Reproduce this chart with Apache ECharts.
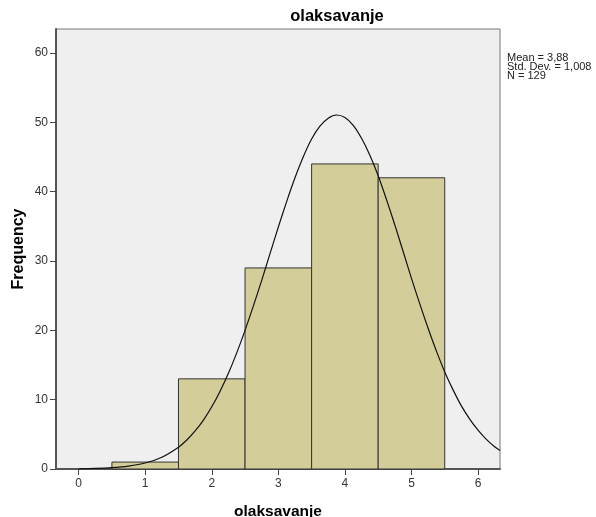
<!DOCTYPE html>
<html><head><meta charset="utf-8">
<script src="https://cdn.jsdelivr.net/npm/echarts@6/dist/echarts.min.js"></script>
<style>html,body{margin:0;padding:0;background:#fff}#c{width:596px;height:517px}</style>
</head><body><div id="c"></div>
<script>
const binCenters = [1, 2, 3, 4, 5];
const frequencies = [1, 13, 29, 44, 42];
const xTicks = [0, 1, 2, 3, 4, 5, 6];
const yTicks = [0, 10, 20, 30, 40, 50, 60];
const curveX = [0, 0.25, 0.5, 0.75, 1, 1.25, 1.5, 1.625, 1.75, 1.875, 2, 2.125, 2.25, 2.375, 2.5, 2.625, 2.75, 2.875, 3, 3.125, 3.25, 3.375, 3.5, 3.625, 3.75, 3.875, 4, 4.125, 4.25, 4.375, 4.5, 4.625, 4.75, 4.875, 5, 5.125, 5.25, 5.375, 5.5, 5.625, 5.75, 5.875, 6, 6.125, 6.25, 6.33];
const curveY = [0.03, 0.08, 0.19, 0.42, 0.86, 1.7, 3.15, 4.18, 5.5, 7.06, 8.97, 11.22, 13.8, 16.75, 20.0, 23.52, 27.2, 31.06, 34.9, 38.57, 42.0, 45.04, 47.6, 49.45, 50.6, 51.06, 50.7, 49.57, 47.7, 45.26, 42.3, 38.86, 35.2, 31.37, 27.5, 23.81, 20.3, 17.0, 14.0, 11.41, 9.1, 7.2, 5.6, 4.27, 3.2, 2.66];
const statsLines = ['Mean = 3,88', 'Std. Dev. = 1,008', 'N = 129'];
const titleText = 'olaksavanje';
const xName = 'olaksavanje';
const yName = 'Frequency';

const chart = echarts.init(document.getElementById('c'), null, {renderer: 'canvas'});
const font = 'Arial, "Liberation Sans", sans-serif';
chart.setOption({
  animation: false,
  title: {text: titleText, left: 332, top: 3, textAlign: 'center',
    textStyle: {fontFamily: font, fontSize: 16.5, fontWeight: 'bold', color: '#000'}},
  graphic: [{type: 'text', left: 507, top: 52,
    style: {text: statsLines.join('\n'), font: '11px ' + font, fill: '#222', lineHeight: 9}}],
  grid: {left: 56, top: 29, right: 96, bottom: 48, show: true, containLabel: false, outerBoundsMode: 'none',
    backgroundColor: '#efefef', borderColor: '#777', borderWidth: 1},
  xAxis: {type: 'value', min: -0.34, max: 6.33,
    name: xName, nameLocation: 'middle', nameGap: 35,
    nameTextStyle: {fontFamily: font, fontSize: 15.5, fontWeight: 'bold', color: '#000'},
    axisLine: {show: true, onZero: false, lineStyle: {color: '#555', width: 2}},
    axisTick: {show: true, length: 6, customValues: xTicks, lineStyle: {color: '#444', width: 1}},
    axisLabel: {customValues: xTicks, fontFamily: font, fontSize: 12, color: '#333', margin: 9},
    splitLine: {show: false}},
  yAxis: {type: 'value', min: 0, max: 63.46,
    name: yName, nameLocation: 'middle', nameGap: 29, nameMoveOverlap: false,
    nameTextStyle: {fontFamily: font, fontSize: 16, fontWeight: 'bold', color: '#000'},
    axisLine: {show: true, onZero: false, lineStyle: {color: '#555', width: 2}},
    axisTick: {show: true, length: 6, customValues: yTicks, lineStyle: {color: '#444', width: 1}},
    axisLabel: {customValues: yTicks, fontFamily: font, fontSize: 12, color: '#333', margin: 8},
    splitLine: {show: false}},
  series: [{
    type: 'custom',
    data: binCenters.map((c, i) => [c, frequencies[i]]),
    renderItem: function (params, api) {
      const c = api.value(0), v = api.value(1);
      const p0 = api.coord([c - 0.5, v]);
      const p1 = api.coord([c + 0.5, 0]);
      return {type: 'rect', shape: {x: p0[0], y: p0[1], width: p1[0] - p0[0], height: p1[1] - p0[1]},
        style: {fill: '#d3ce99', stroke: '#333', lineWidth: 1}};
    },
    z: 2
  }, {
    type: 'line', smooth: 0.3, showSymbol: false, symbol: 'none',
    data: curveX.map((x, i) => [x, curveY[i]]),
    lineStyle: {color: '#111', width: 1.2}, z: 3
  }]
});
</script></body></html>
